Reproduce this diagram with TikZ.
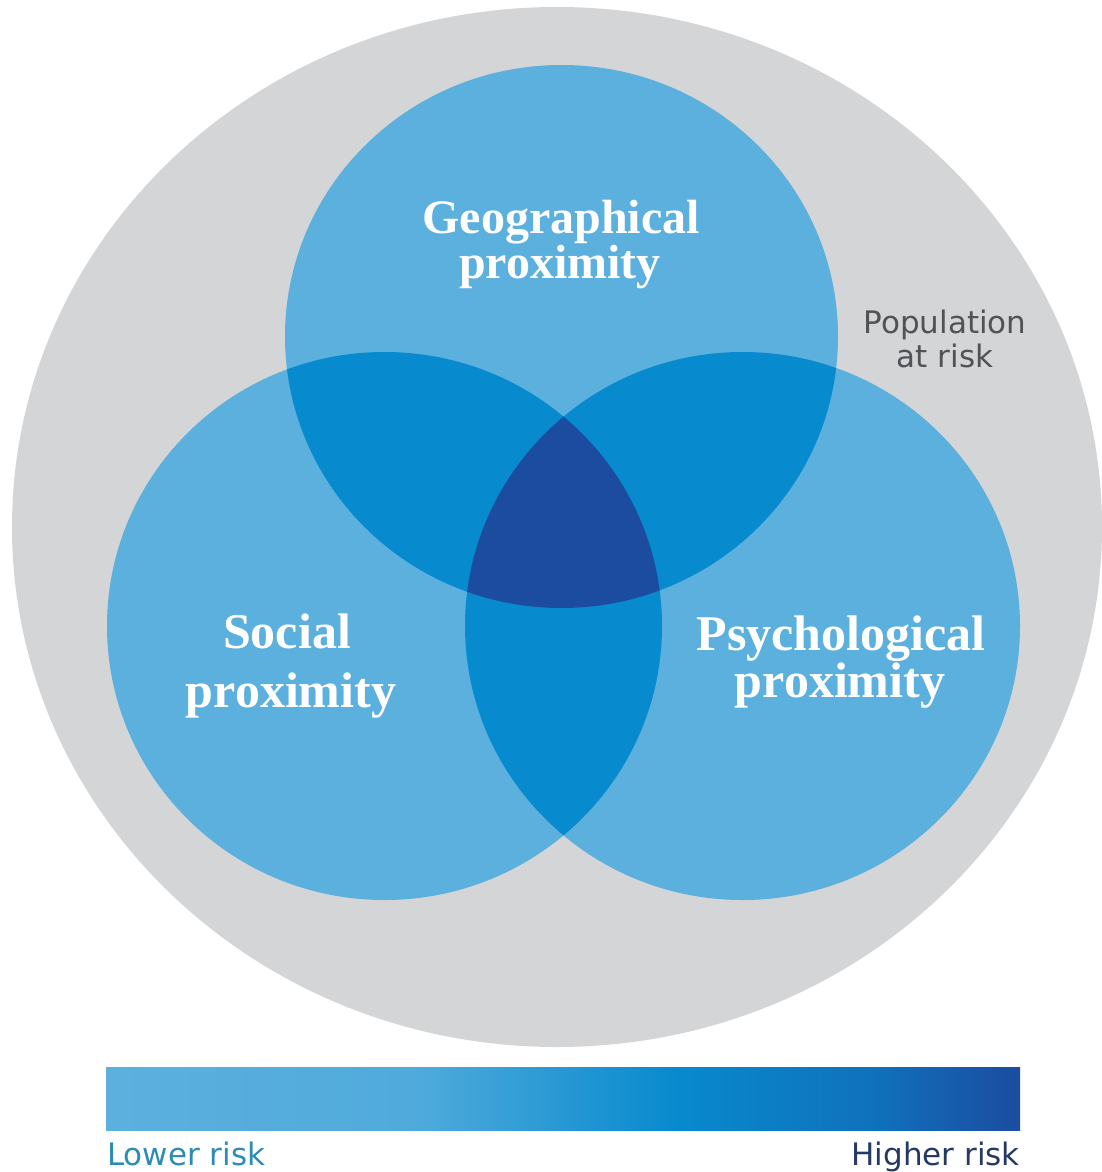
\documentclass[tikz,border=0pt]{standalone}
\usepackage{fontspec}
\newfontfamily\titlefont{Liberation Serif}
\newfontfamily\labfont{DejaVu Sans}
\definecolor{bggray}{RGB}{212,213,215}
\definecolor{lightblue}{RGB}{92,176,222}
\definecolor{midblue}{RGB}{8,138,206}
\definecolor{darkblue}{RGB}{27,76,160}
\definecolor{popgray}{RGB}{80,82,86}
\definecolor{lowcol}{RGB}{44,140,180}
\definecolor{highcol}{RGB}{36,58,100}
\pgfdeclarehorizontalshading{riskbar}{100bp}{%
  color(0bp)=(lightblue);
  color(25bp)=(lightblue);
  color(42bp)=(lightblue!85!midblue);
  color(56bp)=(midblue);
  color(67bp)=(midblue!60!darkblue);
  color(75bp)=(darkblue);
  color(100bp)=(darkblue)}
\begin{document}
\begin{tikzpicture}[x=1pt,y=-1pt,
  title/.style={text=white,font=\titlefont\bfseries\fontsize{48}{48}\selectfont,anchor=base,inner sep=0pt},
  titlebig/.style={title,font=\titlefont\bfseries\fontsize{50}{50}\selectfont},
  lab/.style={font=\labfont\fontsize{31}{31}\selectfont,anchor=base,inner sep=0pt}]
\useasboundingbox (0,0) rectangle (1101,1172);
% population
\fill[bggray] (557,527) ellipse [x radius=545, y radius=520];
% three circles
\coordinate (G) at (561.5,336.5);
\coordinate (S) at (384.5,626);
\coordinate (P) at (742.5,626);
\fill[lightblue] (G) ellipse [x radius=276.5, y radius=271.5];
\fill[lightblue] (S) ellipse [x radius=277.5, y radius=274];
\fill[lightblue] (P) ellipse [x radius=277.5, y radius=274];
% pairwise overlaps
\begin{scope}
  \clip (G) ellipse [x radius=276.5, y radius=271.5];
  \fill[midblue] (S) ellipse [x radius=277.5, y radius=274];
  \fill[midblue] (P) ellipse [x radius=277.5, y radius=274];
\end{scope}
\begin{scope}
  \clip (S) ellipse [x radius=277.5, y radius=274];
  \fill[midblue] (P) ellipse [x radius=277.5, y radius=274];
\end{scope}
% triple overlap
\begin{scope}
  \clip (G) ellipse [x radius=276.5, y radius=271.5];
  \clip (S) ellipse [x radius=277.5, y radius=274];
  \fill[darkblue] (P) ellipse [x radius=277.5, y radius=274];
\end{scope}
% labels
\node[title] (geo1) at (561,233) {Geographical};
\node[title] (geo2) at (560,278) {proximity};
\node[titlebig] (soc1) at (287,648) {Social};
\node[titlebig] (soc2) at (291,707) {proximity};
\node[titlebig] (psy1) at (841,650) {Psychological};
\node[titlebig] (psy2) at (840,697) {proximity};
\node[lab,text=popgray] (pop1) at (945,333) {Population};
\node[lab,text=popgray] (pop2) at (945,367) {at risk};
% risk bar
\shade[shading=riskbar] (106,1067) rectangle (1020,1130);
\node[lab,text=lowcol,anchor=base west] (low) at (107,1165) {Lower risk};
\node[lab,text=highcol,anchor=base east] (high) at (1020,1165) {Higher risk};
\end{tikzpicture}
\end{document}
